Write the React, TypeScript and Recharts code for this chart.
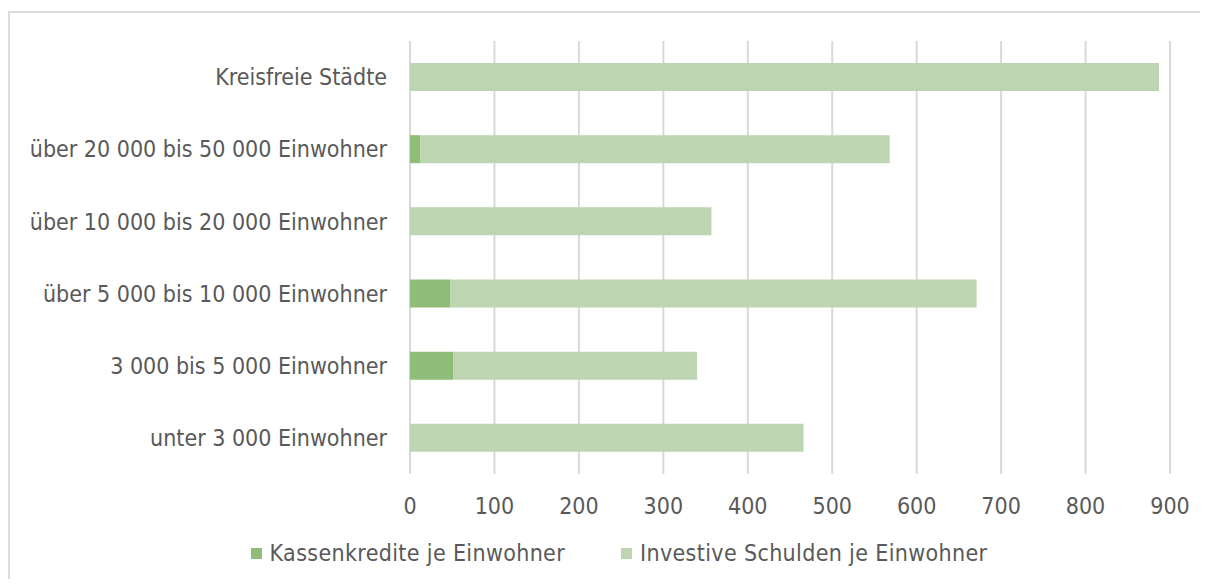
import { BarChart, Bar, XAxis, YAxis, CartesianGrid, Legend } from 'recharts'

// Gruppen (von oben nach unten)
const categories = [
  'Kreisfreie Städte',
  'über 20 000 bis 50 000 Einwohner',
  'über 10 000 bis 20 000 Einwohner',
  'über 5 000 bis 10 000 Einwohner',
  '3 000 bis 5 000 Einwohner',
  'unter 3 000 Einwohner',
]

// Euro je Einwohner
const kassenkredite = [0, 12, 0, 48, 51, 0]
const investiveSchulden = [887, 556, 357, 623, 289, 466]

const seriesNames = ['Kassenkredite je Einwohner', 'Investive Schulden je Einwohner']

const xTicks = [0, 100, 200, 300, 400, 500, 600, 700, 800, 900]

const KASSEN_COLOR = '#8fbc76'
const INVESTIV_COLOR = '#bdd6b1'
const TEXT_COLOR = '#595959'
const GRID_COLOR = '#d9d9d9'
const FONT = '"DejaVu Sans Condensed", "DejaVu Sans", sans-serif'
const FONT_SIZE = 23

const data = categories.map((name, i) => ({
  name,
  kassen: kassenkredite[i],
  investiv: investiveSchulden[i],
}))

function LegendContent({ payload }: { payload?: Array<{ value: string; color: string }> }) {
  if (!payload) return null
  // vertical layout reverses the payload, keep the series order
  const items = [...payload].sort((a, b) => seriesNames.indexOf(a.value) - seriesNames.indexOf(b.value))
  return (
    <div
      style={{
        display: 'flex',
        justifyContent: 'center',
        gap: 56,
        paddingLeft: 30,
        fontFamily: FONT,
        fontSize: FONT_SIZE,
        letterSpacing: 0.35,
        color: TEXT_COLOR,
      }}
    >
      {items.map((p) => (
        <div key={p.value} style={{ display: 'flex', alignItems: 'center' }}>
          <span style={{ width: 11, height: 11, background: p.color, marginRight: 8, display: 'inline-block' }} />
          {p.value}
        </div>
      ))}
    </div>
  )
}

export default function App() {
  return (
    <div style={{ position: 'relative', width: 1208, height: 587, margin: -8, overflow: 'hidden', background: '#fff' }}>
      <div
        style={{
          position: 'absolute',
          left: 8,
          top: 11,
          width: 1300,
          height: 700,
          border: '2px solid #dcdcdc',
        }}
      />
      <div style={{ position: 'absolute', left: 0, top: 0 }}>
        <BarChart
          width={1208}
          height={587}
          data={data}
          layout="vertical"
          barSize={28}
          margin={{ top: 41, right: 38, left: 0, bottom: 0 }}
        >
          <CartesianGrid horizontal={false} vertical stroke={GRID_COLOR} strokeWidth={2} />
          <XAxis
            type="number"
            domain={[0, 900]}
            ticks={xTicks}
            axisLine={false}
            tickLine={false}
            tickSize={0}
            tickMargin={24}
            height={40}
            tick={{ fill: TEXT_COLOR, fontSize: FONT_SIZE, fontFamily: FONT }}
          />
          <YAxis
            type="category"
            dataKey="name"
            width={410}
            axisLine={false}
            tickLine={false}
            tickSize={0}
            tickMargin={23}
            tick={{ fill: TEXT_COLOR, fontSize: FONT_SIZE, fontFamily: FONT }}
          />
          <Legend
            verticalAlign="bottom"
            height={73}
            wrapperStyle={{ top: 540, left: 0, width: 1208 }}
            content={<LegendContent />}
          />
          <Bar dataKey="kassen" name={seriesNames[0]} stackId="a" fill={KASSEN_COLOR} isAnimationActive={false} />
          <Bar dataKey="investiv" name={seriesNames[1]} stackId="a" fill={INVESTIV_COLOR} isAnimationActive={false} />
        </BarChart>
      </div>
    </div>
  )
}
